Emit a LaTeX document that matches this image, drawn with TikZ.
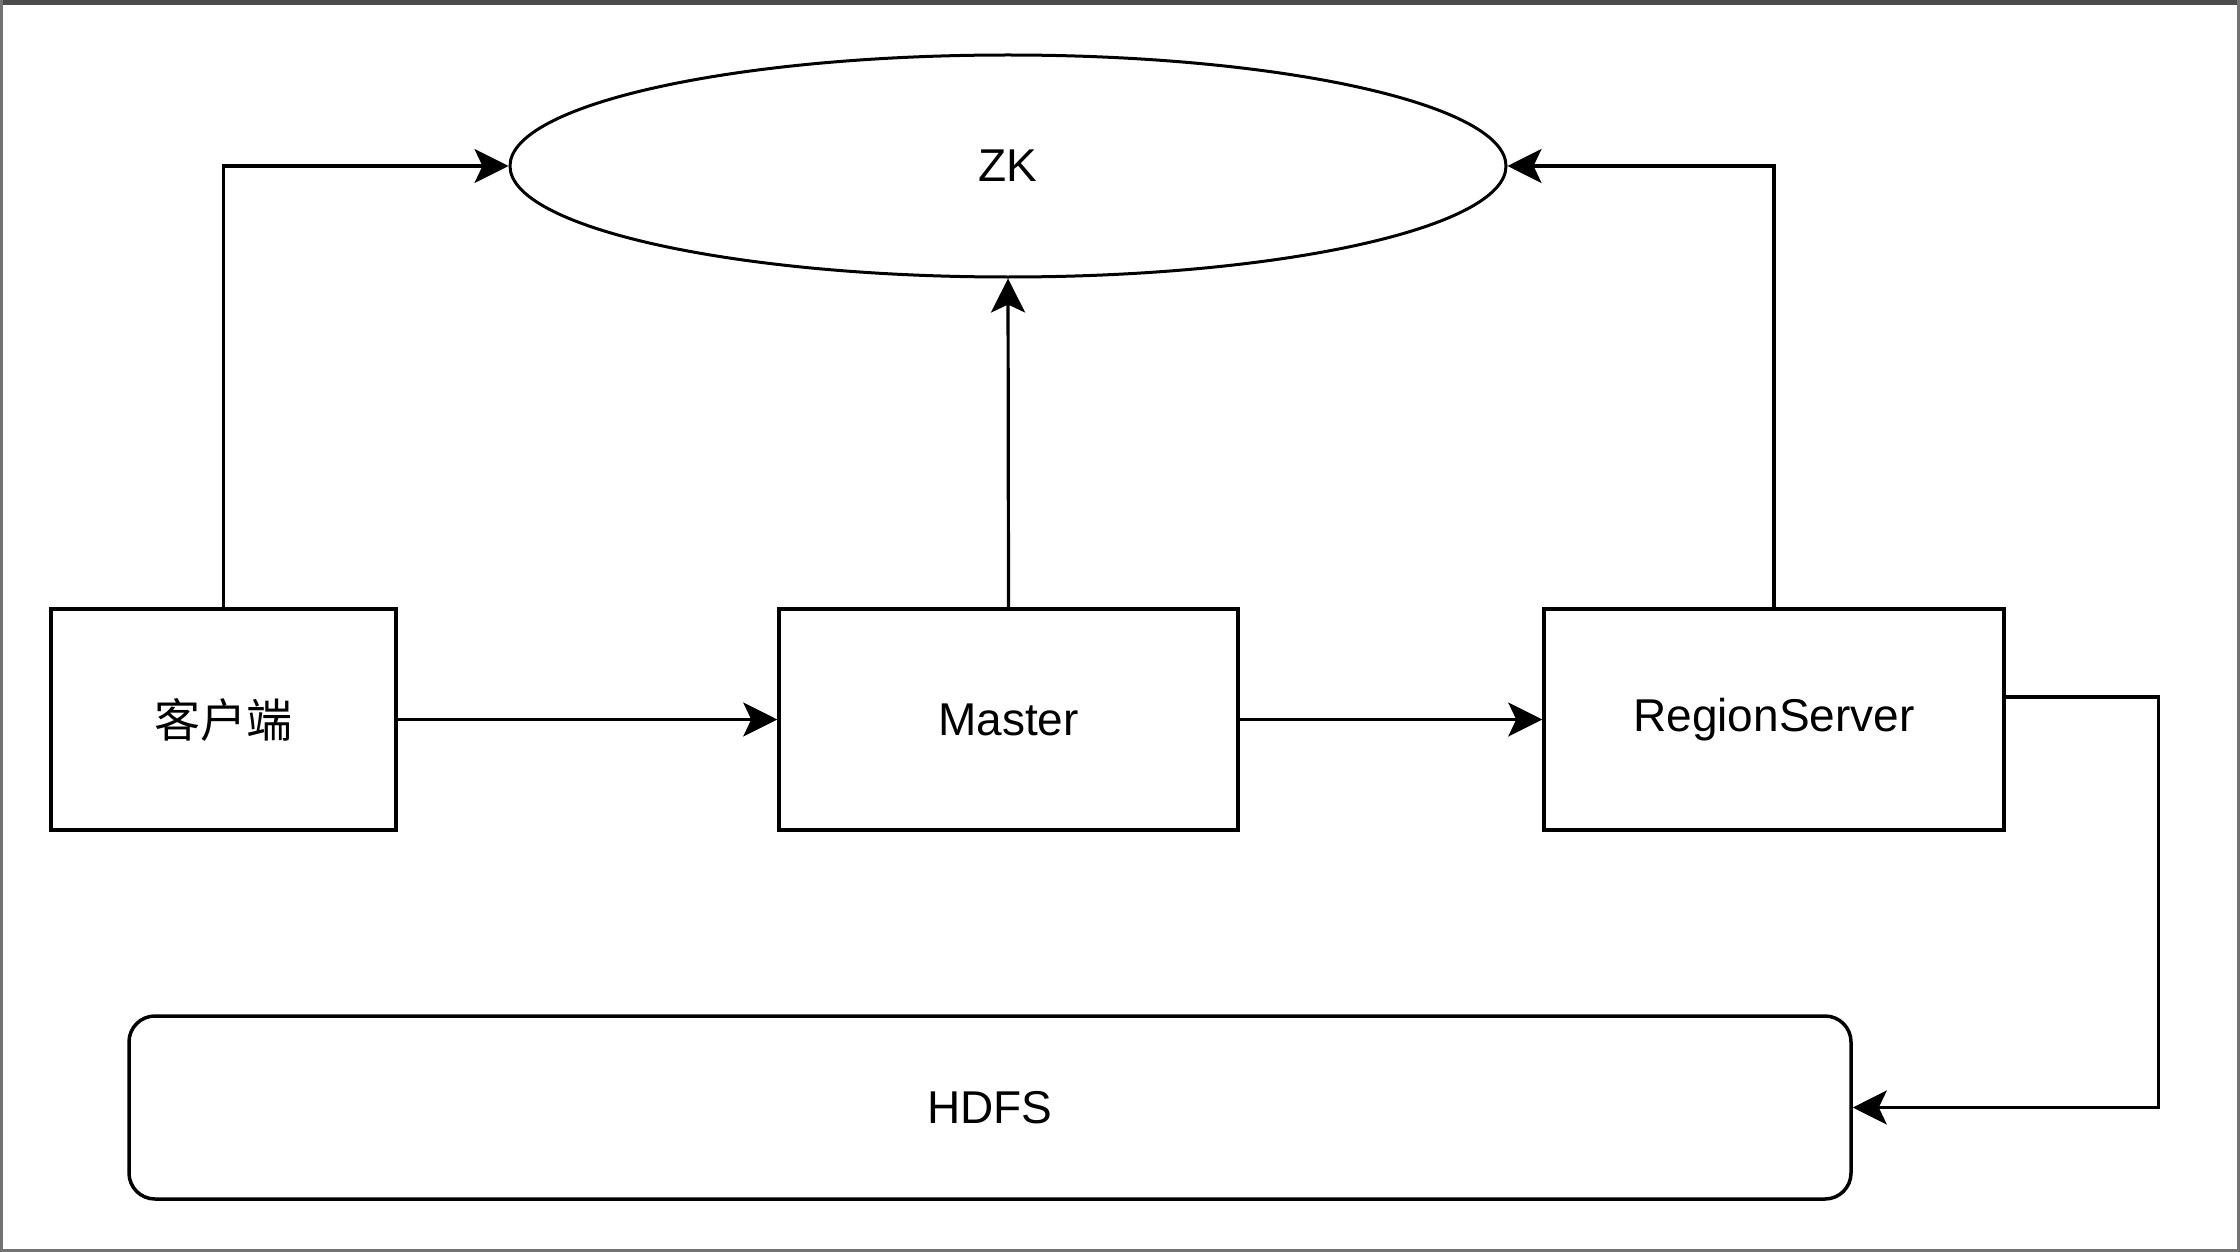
\documentclass[tikz,border=0pt]{standalone}
\usepackage{fontspec}
\setmainfont{Liberation Sans}
\newfontfamily\cjk{Noto Sans CJK SC}
\usetikzlibrary{arrows.meta,shapes.geometric,calc}
\begin{document}
\begin{tikzpicture}[x=1pt,y=-1pt,
  box/.style={draw=black,line width=3.5pt,rectangle,minimum height=221pt,inner sep=0pt,font=\fontsize{46}{54}\selectfont},
  conn/.style={draw=black,line width=3.2pt,-{Stealth[length=34pt,width=34pt,inset=8pt]}},
]
\useasboundingbox (0,0) rectangle (2240,1252);
\fill[white] (0,0) rectangle (2240,1252);
\fill[black!70] (0,0) rectangle (2240,5);
\draw[black!55,line width=3pt] (1.5,0) -- (1.5,1252);
\draw[black!55,line width=3pt] (2238.5,0) -- (2238.5,1252);
\draw[black!55,line width=3pt] (0,1250.5) -- (2240,1250.5);

\node[draw=black,line width=3pt,ellipse,minimum width=996pt,minimum height=222pt,inner sep=0pt,font=\fontsize{46}{54}\selectfont] (zk) at (1008,166) {ZK};
\node[box,minimum width=345pt] (cli) at (223.5,719.5) {\cjk 客户端};
\node[box,minimum width=459pt] (mas) at (1008.5,719.5) {Master};
\node[box,minimum width=460pt] (rs) at (1774,719.5) {RegionServer};
\node[draw=black,line width=3.5pt,rectangle,rounded corners=26pt,minimum width=1722pt,minimum height=183pt,inner sep=0pt,font=\fontsize{46}{54}\selectfont] (hdfs) at (990,1107.5) {HDFS};

\coordinate (rsout) at (rs.east |- 0,697);
\draw[conn] (cli.north) |- (zk.west);
\draw[conn] (mas.north) -- (zk.south);
\draw[conn] (rs.north) |- (zk.east);
\draw[conn] (cli.east) -- (mas.west);
\draw[conn] (mas.east) -- (rs.west);
\draw[conn] (rsout) -- ++(153,0) |- (hdfs.east);
\end{tikzpicture}
\end{document}
